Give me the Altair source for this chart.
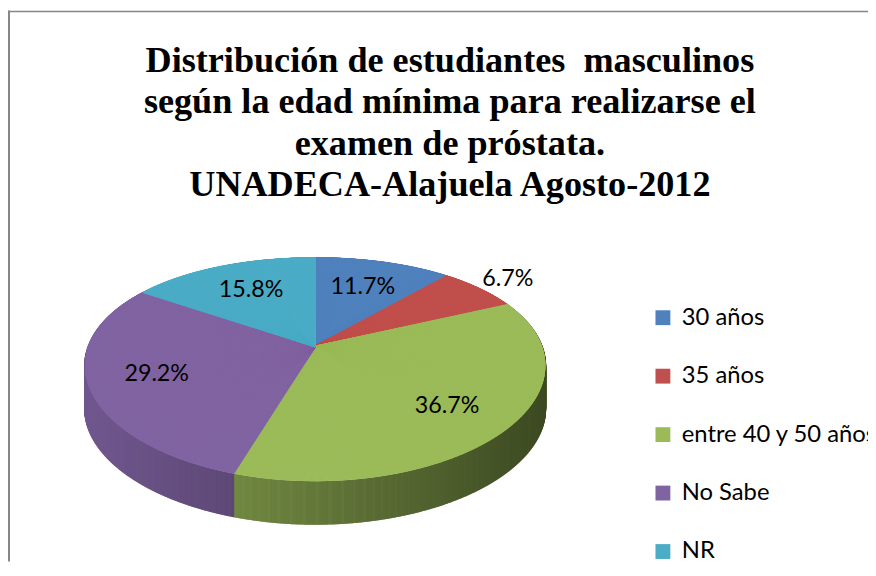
import altair as alt
import pandas as pd

# ---- data ----
categorias = ["30 años", "35 años", "entre 40 y 50 años", "No Sabe", "NR"]
frecuencias = [14, 8, 44, 35, 19]          # 11.7%, 6.7%, 36.7%, 29.2%, 15.8% of 120
colores = ["#4F81BD", "#C0504D", "#9BBB59", "#8064A2", "#4BACC6"]
titulo = [
    "Distribución de estudiantes\u00a0 masculinos",
    "según la edad mínima para realizarse el",
    "examen de próstata.",
    "UNADECA-Alajuela Agosto-2012",
]

df = pd.DataFrame({
    "categoria": categorias,
    "n": frecuencias,
    "orden": list(range(len(categorias))),
    "color": colores,
})

W, H = 868, 556
CX, CY = 310, 339   # where the slices meet, in chart pixels

xs = alt.Scale(domain=[-CX, W - CX], nice=False, zero=False)
ys = alt.Scale(domain=[-CY, H - CY], nice=False, zero=False, reverse=True)

color_scale = alt.Scale(domain=categorias, range=colores)

base = (
    alt.Chart(df)
    .transform_joinaggregate(total="sum(n)")
    .transform_window(cum="sum(n)", sort=[alt.SortField("orden", order="ascending")])
    .transform_calculate(a0="(datum.cum - datum.n) / datum.total * 360")
    .transform_calculate(a1="datum.cum / datum.total * 360")
)

# perspective-like ellipse: x = sin*(229-40cos), y = -cos*(113-23cos)
fan = (
    base.transform_calculate(deg="sequence(datum.a0, datum.a1 + 0.2, 0.2)")
    .transform_flatten(["deg"])
    .transform_calculate(c="cos(datum.deg * PI / 180)")
    .transform_calculate(s="sin(datum.deg * PI / 180)")
    .transform_calculate(px="datum.s * (229 - 40 * datum.c)")
    .transform_calculate(py="-datum.c * (113 - 23 * datum.c)")
    .transform_calculate(py2="datum.py + 44")
    .transform_calculate(cero="0")
    .transform_calculate(k="0.88 - 0.48 * (datum.px + 229) / 458")
    .transform_calculate(
        lado="'rgb(' + round(rgb(datum.color).r * datum.k) + ',' + "
             "round(rgb(datum.color).g * datum.k) + ',' + "
             "round(rgb(datum.color).b * datum.k) + ')'"
    )
)

side = fan.mark_rule(strokeWidth=1.6).encode(
    x=alt.X("px:Q", scale=xs, axis=None),
    y=alt.Y("py:Q", scale=ys, axis=None),
    y2="py2:Q",
    color=alt.Color("lado:N", scale=None),
)

top = fan.mark_rule(strokeWidth=1.6).encode(
    x=alt.X("px:Q", scale=xs, axis=None),
    y=alt.Y("py:Q", scale=ys, axis=None),
    x2="cero:Q",
    y2="cero:Q",
    color=alt.Color("categoria:N", scale=color_scale, legend=None),
)

labels = (
    base.transform_calculate(mid="(datum.a0 + datum.a1) / 2 * PI / 180")
    .transform_calculate(r="datum.n / datum.total < 0.1 ? 1.17 : 0.7")
    .transform_calculate(lx="datum.r * sin(datum.mid) * (229 - 40 * cos(datum.mid))")
    .transform_calculate(ly="-datum.r * cos(datum.mid) * (113 - 23 * cos(datum.mid))")
    .transform_calculate(etiqueta="format(datum.n / datum.total, '.1%')")
    .mark_text(font="Lato", fontSize=23.5, color="black", align="center", baseline="middle")
    .encode(
        x=alt.X("lx:Q", scale=xs, axis=None),
        y=alt.Y("ly:Q", scale=ys, axis=None),
        text="etiqueta:N",
    )
)

legend_src = alt.Chart(df).mark_square(size=225, opacity=1, filled=True).encode(
    x=alt.value(-300),
    y=alt.value(-300),
    color=alt.Color(
        "categoria:N",
        scale=color_scale,
        sort=categorias,
        legend=alt.Legend(
            orient="none",
            legendX=649,
            legendY=298,
            title=None,
            symbolType="square",
            symbolSize=225,
            symbolStrokeWidth=0,
            labelFont="Lato",
            labelFontSize=24,
            labelColor="black",
            labelOffset=7,
            rowPadding=35,
            labelLimit=600,
        ),
    ),
)

one = pd.DataFrame({"k": [0]})
title_layer = alt.Chart(one).mark_text(
    text=titulo,
    font="Liberation Serif",
    fontSize=36.5,
    fontWeight="bold",
    lineHeight=41.7,
    align="center",
    baseline="alphabetic",
    color="black",
).encode(x=alt.value(446), y=alt.value(62))

border_left = alt.Chart(one).mark_rule(color="#868686", strokeWidth=2).encode(
    x=alt.value(1), y=alt.value(0), y2=alt.value(H)
)
border_top = alt.Chart(one).mark_rule(color="#868686", strokeWidth=1.5).encode(
    x=alt.value(0), x2=alt.value(W), y=alt.value(1)
)

chart = (
    alt.layer(side, top, labels, legend_src, title_layer, border_left, border_top)
    .resolve_scale(color="independent")
    .properties(width=W, height=H, padding=0, autosize=alt.AutoSizeParams(type="none"))
    .configure_view(stroke=None)
)

chart.save("out.html", embed_options={"renderer": "svg", "actions": False})
